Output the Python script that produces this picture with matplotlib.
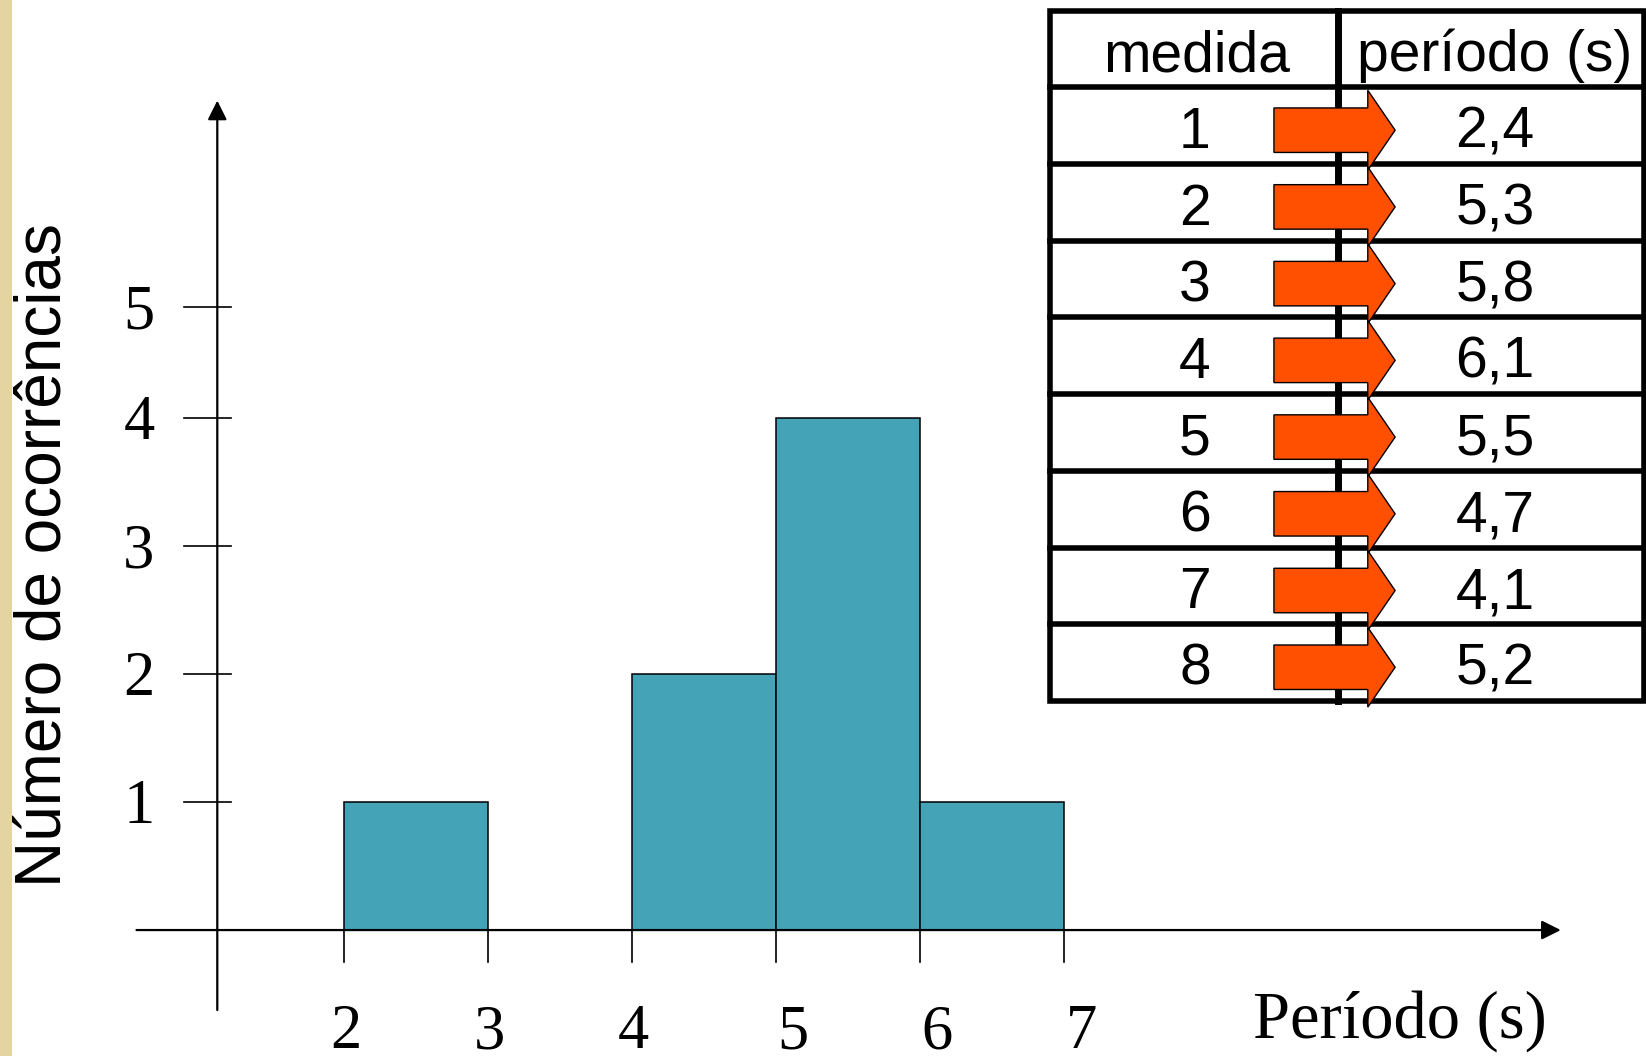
"""Histograma dos períodos medidos, com a tabela de medidas ao lado."""

import matplotlib.pyplot as plt
from matplotlib.patches import Polygon, Rectangle

# dados
medidas = [1, 2, 3, 4, 5, 6, 7, 8]
periodos = [2.4, 5.3, 5.8, 6.1, 5.5, 4.7, 4.1, 5.2]
bins = [2, 3, 4, 5, 6, 7]
yticks = [1, 2, 3, 4, 4.87]
ytick_labels = ["1", "2", "3", "4", "5"]

bar_color = "#45A3B8"
arrow_color = "#FF4F00"
serif = "Liberation Serif"
sans = "Liberation Sans"

fig = plt.figure(figsize=(16.46, 10.56), dpi=100)
fig.patches.append(Rectangle((0, 0), 12 / 1646, 1, transform=fig.transFigure,
                             facecolor="#E4D4A2", edgecolor="none", zorder=0))

# histograma
ax = fig.add_axes([0, 0, 1, 1])
ax.set_xlim(-0.389, 11.042)
ax.set_ylim(-0.984, 7.266)
ax.axis("off")

ax.hist(periodos, bins=bins, color=bar_color, edgecolor="black", linewidth=1.1, zorder=2)

arrow_kw = dict(arrowstyle="-|>", lw=1.6, color="black", mutation_scale=29,
                shrinkA=0, shrinkB=0)
ax.annotate("", xy=(10.45, 0), xytext=(0.559, 0), arrowprops=arrow_kw, zorder=3)
ax.annotate("", xy=(1.12, 6.48), xytext=(1.12, -0.625), arrowprops=arrow_kw, zorder=3)

for x in bins:
    ax.plot([x, x], [0, -0.246], color="black", lw=1.2)
    ax.text(x + (0.12 if x >= 5 else 0.01), -0.925, str(x), family=serif, fontsize=45,
            ha="center", va="baseline")
for y, lab in zip(yticks, ytick_labels):
    ax.plot([0.892, 1.215], [y, y], color="black", lw=1.2)
    ax.text(0.576, y - 0.05, lab, family=serif, fontsize=45, ha="center", va="center")

ax.text(9.33, -0.836, "Período (s)", family=serif, fontsize=48, ha="center", va="baseline")
ax.text(-0.09, 2.93, "Número de ocorrências", family=sans, fontsize=46,
        rotation=90, ha="center", va="center")

# tabela
ax_t = fig.add_axes([1050 / 1646, (1056 - 701) / 1056, 594 / 1646, 690.5 / 1056])
ax_t.set_xlim(0, 1)
ax_t.set_ylim(len(medidas) + 1, 0)
ax_t.axis("off")

col_div = 0.485
lw_tab = 4
ax_t.add_patch(Rectangle((0, 0), 1, len(medidas) + 1, fill=False, lw=lw_tab,
                         edgecolor="black", clip_on=False, zorder=1))
for r in range(1, len(medidas) + 1):
    ax_t.plot([0, 1], [r, r], color="black", lw=lw_tab, clip_on=False, zorder=1)
ax_t.plot([col_div, col_div], [0, len(medidas) + 1], color="black", lw=lw_tab + 1,
          clip_on=False, zorder=1)

ax_t.text(0.247, 0.79, "medida", family=sans, fontsize=41, ha="center", va="baseline")
ax_t.text(0.749, 0.79, "período (s)", family=sans, fontsize=41, ha="center", va="baseline")

for i, (m, p) in enumerate(zip(medidas, periodos)):
    row = i + 1
    ax_t.text(0.244, row + 0.79, str(m), family=sans, fontsize=41, ha="center", va="baseline")
    ax_t.text(0.749, row + 0.79, f"{p:.1f}".replace(".", ","), family=sans, fontsize=41,
              ha="center", va="baseline")
    cy = row + 0.56
    pts = [(0.377, cy - 0.29), (0.535, cy - 0.29), (0.535, cy - 0.52), (0.581, cy),
           (0.535, cy + 0.52), (0.535, cy + 0.29), (0.377, cy + 0.29)]
    ax_t.add_patch(Polygon(pts, closed=True, facecolor=arrow_color, edgecolor="black",
                           lw=1.0, clip_on=False, zorder=3))

fig.savefig("out.png", dpi=100)
